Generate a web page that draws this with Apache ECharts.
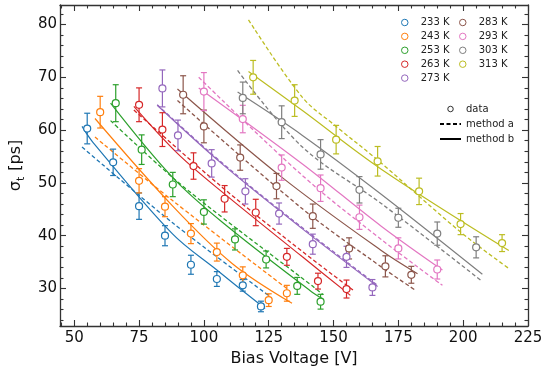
<!DOCTYPE html>
<html><head><meta charset="utf-8">
<script src="https://cdn.jsdelivr.net/npm/echarts@6/dist/echarts.min.js"></script>
<style>html,body{margin:0;padding:0;background:#fff}#c{width:554px;height:373px}</style>
</head><body><div id="c"></div>
<script>
const temperatures = ['233 K','243 K','253 K','263 K','273 K','283 K','293 K','303 K','313 K'];
const colors = ['#1f77b4','#ff7f0e','#2ca02c','#d62728','#9467bd','#8c564b','#e377c2','#7f7f7f','#bcbd22'];

// measured points: bias voltage [V]
const voltages = [
  [55,65,75,85,95,105,115,122],
  [60,75,85,95,105,115,125,132],
  [66,76,88,100,112,124,136,145],
  [75,84,96,108,120,132,144,155],
  [84,90,103,116,129,142,155,165],
  [92,100,114,128,142,156,170,180],
  [100,115,130,145,160,175,190],
  [115,130,145,160,175,190,205],
  [119,135,151,167,183,199,215]
];
// time resolution sigma_t [ps]
const sigmas = [
  [60.3,53.9,45.6,40.0,34.5,31.8,30.6,26.6],
  [63.4,50.4,45.5,40.4,36.9,32.5,27.8,29.1],
  [65.1,56.3,49.7,44.5,39.3,35.5,30.5,27.5],
  [64.8,60.1,53.2,47.0,44.4,36.0,31.4,29.9],
  [67.9,59.0,53.7,48.4,44.2,38.4,36.0,30.2],
  [66.7,60.7,54.8,49.4,43.7,37.6,34.2,32.6],
  [67.3,62.1,52.9,49.0,43.5,37.6,33.6],
  [66.1,61.5,55.4,48.7,43.4,40.4,37.8],
  [70.0,65.6,58.2,54.1,48.4,42.2,38.6]
];
// error bar half-length [ps]
const errors = [
  [2.9,2.5,2.5,1.9,1.8,1.4,1.1,1.0],
  [3.0,2.3,1.9,1.9,1.7,1.6,1.2,1.5],
  [3.5,2.8,2.3,2.3,2.0,1.6,1.6,1.4],
  [3.2,3.2,2.5,2.5,2.5,1.6,1.5,1.7],
  [3.5,2.9,2.6,2.4,2.0,1.9,2.0,1.5],
  [3.6,3.1,2.4,2.4,2.3,2.0,2.0,1.6],
  [3.6,2.6,2.4,2.5,2.3,2.0,1.8],
  [3.0,3.1,2.8,2.5,1.8,2.2,2.0],
  [3.2,3.0,2.7,2.8,2.5,2.0,1.6]
];
// method a (dashed) curves [V, ps]
const methodA = [
  [[53,56.8],[87.8,42.5],[124.9,28.7]],
  [[58,58.7],[87.8,46.7],[132,30.0]],
  [[64,61.8],[88,51.0],[107,43.5],[141.5,30.6],[146,28.8]],
  [[73,63.8],[107,49.2],[138,37.0],[157.5,29.7]],
  [[82,64.8],[107,53.8],[138,41.5],[167,30.6]],
  [[89.8,65.6],[138,45.1],[168.4,34.1],[181.2,29.8]],
  [[98,70.0],[138,51.4],[168.4,39.3],[192,30.6]],
  [[113,71.3],[138,56.8],[168.4,46.1],[206.7,31.6]],
  [[117.2,80.9],[138,66.2],[150.5,60.9],[167.1,54.3],[199,40.7],[217.6,33.8]]
];
// method b (solid) curves
const methodB = [
  [[53,60.7],[57.2,57.7],[87.8,40.4],[105,33.5],[123.6,26.2]],
  [[58,62.2],[87.8,45.7],[111,34.7],[134,27.2]],
  [[64,65.1],[87.8,51.1],[107,42.6],[141.5,29.4],[146,28.0]],
  [[73,64.5],[90,55.5],[107,48.3],[138,36.0],[156.5,28.7]],
  [[82,64.7],[107,53.6],[138,41.3],[167,30.4]],
  [[89.8,67.8],[130,51.1],[168.4,37.2],[182.4,32.8]],
  [[98,68.0],[138,53.6],[168.4,41.8],[192,33.5]],
  [[113,67.2],[138,59.0],[168,48.0],[207.4,32.7]],
  [[117.2,71.1],[138,63.7],[168.4,52.6],[217.6,37.2]]
];
const xTicks = [50,75,100,125,150,175,200,225];
const xMinorTicks = [45,55,60,65,70,80,85,90,95,105,110,115,120,130,135,140,145,155,160,165,170,180,185,190,195,205,210,215,220];
const yTicks = [30,40,50,60,70,80];
const yMinorTicks = [24,26,28,32,34,36,38,42,44,46,48,52,54,56,58,62,64,66,68,72,74,76,78,82];
const xRange = [44.5, 225];
const yRange = [22.9, 83.7];

const AX = '#333';
const FONT = 'DejaVu Sans';

function mkAxis(kind, position, values, len, withLine, withLabel) {
  const r = kind === 'x' ? xRange : yRange;
  return {
    type: 'value', position: position, min: r[0], max: r[1],
    axisLine: { show: withLine, onZero: false, lineStyle: { color: AX, width: 1.3 } },
    axisTick: { show: true, inside: true, length: len, customValues: values, lineStyle: { color: AX, width: 1.1 } },
    axisLabel: { show: withLabel, customValues: values, color: '#111', fontSize: 15, fontFamily: FONT, margin: kind === 'x' ? 5 : 3 },
    splitLine: { show: false }, minorTick: { show: false }
  };
}

const xAxes = [
  Object.assign(mkAxis('x','bottom',xTicks,6,true,true), {
    name: 'Bias Voltage [V]', nameLocation: 'middle', nameGap: 21,
    nameTextStyle: { fontSize: 16, fontFamily: FONT, color: '#111' }
  }),
  mkAxis('x','top',xTicks,6,true,false),
  mkAxis('x','bottom',xMinorTicks,3.5,false,false),
  mkAxis('x','top',xMinorTicks,3.5,false,false)
];
const yAxes = [
  Object.assign(mkAxis('y','left',yTicks,6,true,true), {
    name: '{s|σ}{t|t}{s| [ps]}', nameLocation: 'middle', nameGap: 26,
    nameTextStyle: { fontFamily: FONT, color: '#111',
      rich: { s: { fontSize: 16, fontFamily: FONT, color: '#111', lineHeight: 22, verticalAlign: 'middle' },
              t: { fontSize: 11, fontFamily: FONT, color: '#111', lineHeight: 22, verticalAlign: 'bottom', padding: [6,1,0,0] } } }
  }),
  mkAxis('y','right',yTicks,6,true,false),
  mkAxis('y','left',yMinorTicks,3.5,false,false),
  mkAxis('y','right',yMinorTicks,3.5,false,false)
];

const series = [];
temperatures.forEach((name, i) => {
  const col = colors[i];
  series.push({
    name: name + ' b', type: 'line', data: methodB[i], smooth: 0.35, symbol: 'none',
    lineStyle: { color: col, width: 1.2 }, z: 3, silent: true
  });
  series.push({
    name: name + ' a', type: 'line', data: methodA[i], smooth: 0.35, symbol: 'none',
    lineStyle: { color: col, width: 1.3, type: [4, 2.5] }, z: 3, silent: true
  });
  series.push({
    name: name + ' err', type: 'custom', z: 4, silent: true,
    data: voltages[i].map((v, j) => [v, sigmas[i][j], errors[i][j]]),
    encode: { x: 0, y: 1 },
    renderItem: function (params, api) {
      const x = api.value(0), y = api.value(1), e = api.value(2);
      const p1 = api.coord([x, y + e]), p2 = api.coord([x, y - e]);
      const cw = 3;
      const st = { stroke: col, lineWidth: 1.2, fill: null };
      return { type: 'group', children: [
        { type: 'line', shape: { x1: p1[0], y1: p1[1], x2: p2[0], y2: p2[1] }, style: st },
        { type: 'line', shape: { x1: p1[0] - cw, y1: p1[1], x2: p1[0] + cw, y2: p1[1] }, style: st },
        { type: 'line', shape: { x1: p2[0] - cw, y1: p2[1], x2: p2[0] + cw, y2: p2[1] }, style: st }
      ]};
    }
  });
  series.push({
    name: name, type: 'scatter', z: 5, symbol: 'circle', symbolSize: 7,
    data: voltages[i].map((v, j) => [v, sigmas[i][j]]),
    itemStyle: { color: '#fff', borderColor: col, borderWidth: 1.2, opacity: 1 }
  });
});
series.push({ name: 'data', type: 'scatter', data: [], symbol: 'circle', symbolSize: 7,
  itemStyle: { color: '#fff', borderColor: '#000', borderWidth: 1.2 } });
series.push({ name: 'method a', type: 'line', data: [], symbol: 'none',
  lineStyle: { color: '#000', width: 1.3, type: [4, 2.5] }, itemStyle: { color: '#000' } });
series.push({ name: 'method b', type: 'line', data: [], symbol: 'none',
  lineStyle: { color: '#000', width: 1.2 }, itemStyle: { color: '#000' } });

const legendText = { fontSize: 10, fontFamily: FONT, color: '#222', lineHeight: 12 };
const legendItem = { borderWidth: 1 };
const hiddenSymbol = { color: 'rgba(0,0,0,0)', borderColor: 'rgba(0,0,0,0)', borderWidth: 0, opacity: 0 };
const chart = echarts.init(document.getElementById('c'), null, { renderer: 'canvas' });
chart.setOption({
  animation: false,
  backgroundColor: '#fff',
  grid: { left: 57, right: 26, top: 5, bottom: 47, containLabel: false },
  xAxis: xAxes,
  yAxis: yAxes,
  legend: [
    { data: temperatures.slice(0, 5), orient: 'vertical', left: 401, top: 16.5, padding: 0,
      itemWidth: 22, itemHeight: 6.5, itemGap: 1.9, textStyle: legendText, itemStyle: legendItem, selectedMode: false },
    { data: temperatures.slice(5), orient: 'vertical', left: 459, top: 16.5, padding: 0,
      itemWidth: 22, itemHeight: 6.5, itemGap: 1.9, textStyle: legendText, itemStyle: legendItem, selectedMode: false },
    { data: [
        { name: 'data', itemStyle: { borderWidth: 1 } },
        { name: 'method a', itemStyle: hiddenSymbol },
        { name: 'method b', itemStyle: hiddenSymbol }
      ], orient: 'vertical', left: 439, top: 103, padding: 0,
      itemWidth: 21, itemHeight: 5.5, itemGap: 3, textStyle: legendText, itemStyle: legendItem, selectedMode: false }
  ],
  series: series
});
</script>
</body></html>
